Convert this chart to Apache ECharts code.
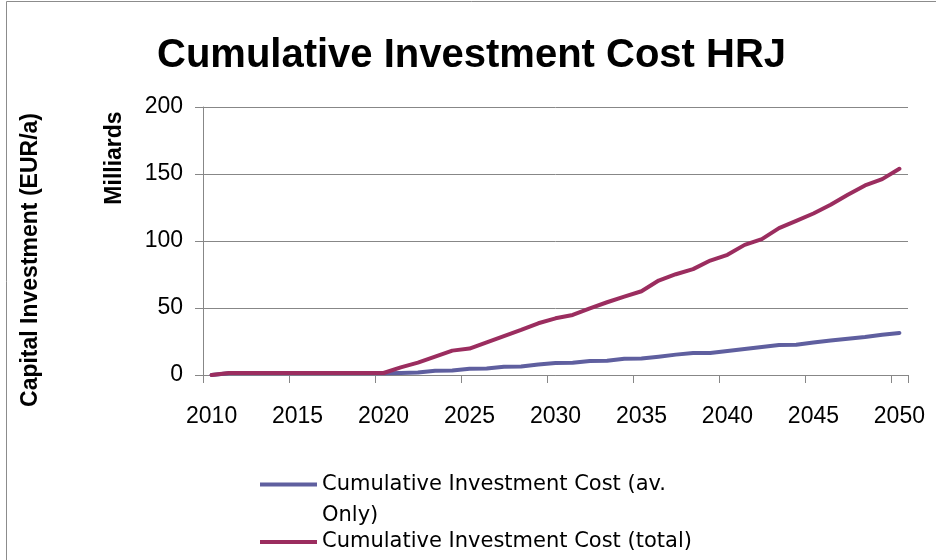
<!DOCTYPE html>
<html>
<head>
<meta charset="utf-8">
<script src="https://cdn.jsdelivr.net/npm/echarts@6/dist/echarts.min.js"></script>
<style>
  html, body { margin: 0; padding: 0; background: #ffffff; }
  #chart { width: 936px; height: 560px; }
</style>
</head>
<body>
<div id="chart"></div>
<script>
// Years on the category axis
const years = [];
for (let y = 2010; y <= 2050; y++) years.push(String(y));

// Cumulative investment, billions of EUR
const avOnly = [
  0, 1.3, 1.3, 1.3, 1.3, 1.3, 1.3, 1.3, 1.3, 1.3, 1.3,
  1.5, 1.8, 3.2, 3.3, 4.7, 4.8, 6.2, 6.3, 7.8, 9.0,
  9.1, 10.5, 10.6, 12.2, 12.3, 13.7, 15.2, 16.4, 16.5, 17.9,
  19.4, 20.9, 22.4, 22.5, 24.2, 25.7, 27.1, 28.4, 30.1, 31.4
];
const total = [
  0, 1.5, 1.5, 1.5, 1.5, 1.5, 1.5, 1.5, 1.5, 1.5, 1.5,
  5.7, 9.2, 13.7, 18.2, 19.7, 24.4, 29.1, 33.6, 38.6, 42.3,
  44.8, 49.8, 54.3, 58.5, 62.5, 70.5, 75.2, 79.0, 85.4, 89.7,
  97.1, 101.4, 109.6, 115.0, 120.5, 127.0, 134.5, 141.5, 146.2, 153.9
];

const seriesNames = [
  'Cumulative Investment Cost (av. Only)',
  'Cumulative Investment Cost (total)'
];
const yTicks = { min: 0, max: 200, interval: 50 };

const gray = '#878787';
const legendFont = { fontFamily: 'DejaVu Sans', fontSize: 21, color: '#000000' };
const chart = echarts.init(document.getElementById('chart'), null, { renderer: 'canvas' });

chart.setOption({
  animation: false,
  backgroundColor: '#ffffff',
  title: {
    text: 'Cumulative Investment Cost HRJ',
    left: 157,
    top: 36,
    padding: 0,
    textStyle: {
      fontFamily: 'Liberation Sans',
      fontWeight: 'bold',
      fontSize: 40,
      color: '#000000',
      lineHeight: 40
    }
  },
  grid: { left: 203, right: 28, top: 107, bottom: 185, containLabel: false },
  xAxis: {
    type: 'category',
    data: years,
    boundaryGap: true,
    axisLine: { show: true, lineStyle: { color: gray, width: 1 } },
    axisTick: { show: true, interval: 4, length: 8, lineStyle: { color: gray, width: 1 } },
    axisLabel: {
      interval: 4,
      margin: 30,
      fontFamily: 'Liberation Sans',
      fontSize: 23,
      color: '#000000'
    },
    splitLine: { show: false }
  },
  yAxis: {
    type: 'value',
    min: yTicks.min,
    max: yTicks.max,
    interval: yTicks.interval,
    axisLine: { show: true, lineStyle: { color: gray, width: 1 } },
    axisTick: { show: true, length: 8, lineStyle: { color: gray, width: 1 } },
    axisLabel: {
      margin: 20,
      fontFamily: 'Liberation Sans',
      fontSize: 23,
      color: '#000000'
    },
    splitLine: { show: true, lineStyle: { color: gray, width: 1 } }
  },
  legend: {
    orient: 'vertical',
    left: 260,
    top: 474,
    padding: 0,
    itemGap: 4,
    itemWidth: 57,
    itemHeight: 4,
    icon: 'rect',
    textStyle: Object.assign({}, legendFont, {
      rich: {
        // first line keeps the key line beside it; second line wraps below
        first: Object.assign({}, legendFont, { height: 31, padding: [31, 0, 0, 0] }),
        rest: Object.assign({}, legendFont, { height: 31 })
      }
    }),
    formatter: function (name) {
      if (name !== seriesNames[0]) return name;
      const cut = name.lastIndexOf(' ');
      return '{first|' + name.slice(0, cut) + '}\n{rest|' + name.slice(cut + 1) + '}';
    },
    data: [
      { name: seriesNames[0] },
      { name: seriesNames[1], textStyle: { lineHeight: 24 } }
    ]
  },
  graphic: [
    {
      type: 'rect',
      silent: true,
      shape: { x: 6.5, y: 1.5, width: 1000, height: 1000 },
      style: { fill: 'none', stroke: '#8c8c8c', lineWidth: 1 }
    },
    {
      type: 'text',
      x: 31,
      y: 260,
      rotation: Math.PI / 2,
      style: {
        text: 'Capital Investment (EUR/a)',
        fontFamily: 'Liberation Sans',
        fontWeight: 'bold',
        fontSize: 23,
        fill: '#000000',
        align: 'center',
        verticalAlign: 'middle'
      }
    },
    {
      type: 'text',
      x: 115,
      y: 158,
      rotation: Math.PI / 2,
      style: {
        text: 'Milliards',
        fontFamily: 'Liberation Sans',
        fontWeight: 'bold',
        fontSize: 23,
        fill: '#000000',
        align: 'center',
        verticalAlign: 'middle'
      }
    }
  ],
  series: [
    {
      name: seriesNames[0],
      type: 'line',
      data: avOnly,
      symbol: 'none',
      smooth: false,
      color: '#5f5f9f',
      lineStyle: { width: 4, color: '#5f5f9f', join: 'round', cap: 'round' }
    },
    {
      name: seriesNames[1],
      type: 'line',
      data: total,
      symbol: 'none',
      smooth: false,
      color: '#9b2d5f',
      lineStyle: { width: 4, color: '#9b2d5f', join: 'round', cap: 'round' }
    }
  ]
});
</script>
</body>
</html>
